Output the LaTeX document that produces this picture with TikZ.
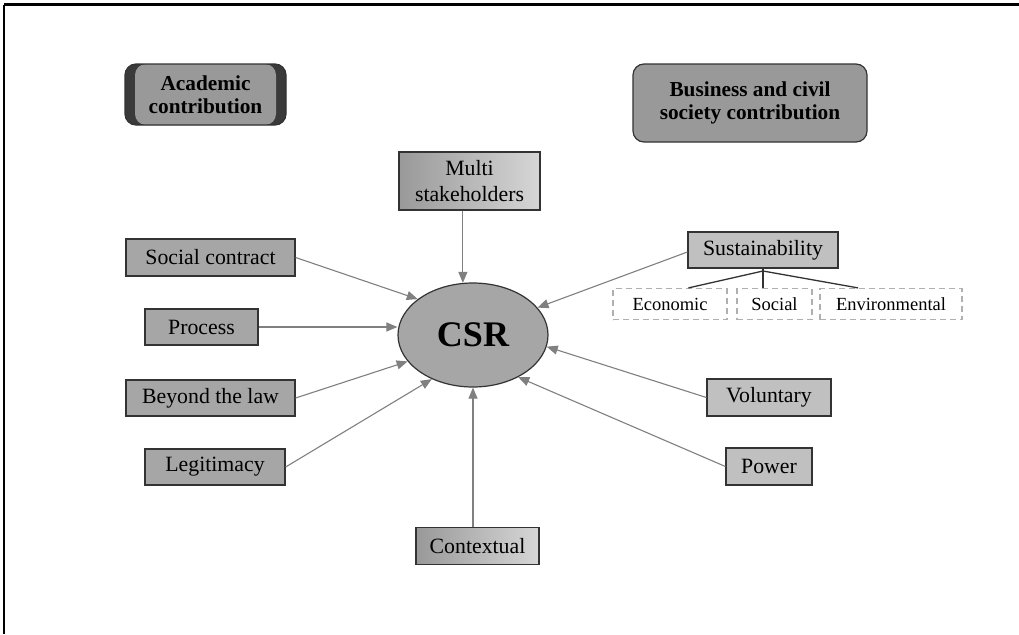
\documentclass[tikz,border=0pt]{standalone}
\usepackage{fontspec}
\setmainfont{Liberation Serif}
\usetikzlibrary{arrows.meta,calc,shapes.geometric}
\definecolor{boxgray}{HTML}{A6A6A6}
\definecolor{lightbox}{HTML}{C0C0C0}
\definecolor{darkline}{HTML}{333333}
\definecolor{arrowgray}{HTML}{808080}
\definecolor{academicdark}{HTML}{3A3A3A}
\definecolor{headgray}{HTML}{999999}
\definecolor{dashgray}{HTML}{B0B0B0}
\tikzset{
  lbl/.style={font=\fontsize{21.8}{26}\selectfont, inner sep=0pt, align=center},
  darkbox/.style={lbl, draw=darkline, line width=1.2pt, fill=boxgray},
  lightboxst/.style={lbl, draw=darkline, line width=1.2pt, fill=lightbox},
  gradbox/.style={lbl, draw=darkline, line width=1.2pt, left color=white!60!black, right color=white!84!black},
  subbox/.style={font=\fontsize{18.5}{20}\selectfont, inner sep=0pt, draw=dashgray, dashed, dash pattern=on 6pt off 4pt, line width=1.2pt},
  head/.style={font=\bfseries\fontsize{21.3}{23.5}\selectfont, inner sep=0pt, align=center, draw=darkline, line width=1.2pt, rounded corners=11pt},
  feed/.style={draw=arrowgray, line width=1.1pt, -{Triangle[length=11pt,width=9pt]}},
  tree/.style={draw=darkline, line width=1.3pt}
}
\begin{document}
\begin{tikzpicture}[x=1pt,y=-1pt]
\useasboundingbox (0,0) rectangle (1019,634);
\fill[white] (0,0) rectangle (1019,634);
% frame
\draw[line width=3pt] (4,5) -- (1019,5);
\draw[line width=2pt] (4,5) -- (4,634);

% headers
\node[head, fill=academicdark, minimum width=161pt, minimum height=61pt,
  path picture={\fill[headgray] ([xshift=10pt]path picture bounding box.south west) rectangle ([xshift=-10pt]path picture bounding box.north east);}]
  (acad) at (205.5,94.5) {Academic\\contribution};
\node[head, fill=headgray, minimum width=234pt, minimum height=78pt] (bus) at (750,103) {Business and civil\\society contribution};

% centre
\node[ellipse, draw=darkline, line width=1.2pt, fill=boxgray, minimum width=150pt, minimum height=104pt, inner sep=0pt,
  font=\bfseries\fontsize{36}{40}\selectfont] (csr) at (473,335) {CSR};

% left boxes
\node[darkbox, minimum width=169pt, minimum height=37pt] (social) at (210.5,257.5) {Social contract};
\node[darkbox, minimum width=113pt, minimum height=36pt] (process) at (201.5,327) {Process};
\node[darkbox, minimum width=169pt, minimum height=36pt] (beyond) at (210.5,398) {Beyond the law};
\node[darkbox, minimum width=140pt, minimum height=36pt] (legit) at (215,467) {Legitimacy};

% top / bottom
\node[gradbox, minimum width=141pt, minimum height=58pt] (multi) at (469.5,181) {Multi\\stakeholders};
\node[gradbox, minimum width=123pt, minimum height=37pt] (context) at (477.5,546) {Contextual};

% right boxes
\node[lightboxst, minimum width=150pt, minimum height=36pt] (sust) at (763,250) {Sustainability};
\node[lightboxst, minimum width=124pt, minimum height=37pt] (volun) at (769,397.5) {Voluntary};
\node[lightboxst, minimum width=86pt, minimum height=37pt] (power) at (769,466.5) {Power};

% sustainability dimensions
\node[subbox, minimum width=114pt, minimum height=31pt] (econ) at (670,304) {Economic};
\node[subbox, minimum width=75pt, minimum height=31pt] (soc) at (774.5,304) {Social};
\node[subbox, minimum width=142pt, minimum height=31pt] (env) at (891,304) {Environmental};

\coordinate (junc) at (763,271);
\draw[tree] (sust.south) -- (junc);
\draw[tree] (junc) -- ($(econ.north west)!0.66!(econ.north east)$);
\draw[tree] (junc) -- (junc |- soc.north);
\draw[tree] (junc) -- ($(env.north west)!0.27!(env.north east)$);

% arrows into CSR
\draw[feed] (social.east) -- (csr.147);
\draw[feed] (process.east) -- (process.east -| csr.west);
\draw[feed] (beyond.east) -- (csr.202);
\draw[feed] (legit.east) -- (csr.227);
\draw[feed] (multi.south -| csr.101) -- (csr.101);
\draw[feed] (context.north -| csr.south) -- (csr.south);
\draw[feed] ([yshift=-2pt]sust.west) -- (csr.23);
\draw[feed] (volun.west) -- (csr.351);
\draw[feed] (power.west) -- (csr.317);
\end{tikzpicture}
\end{document}
